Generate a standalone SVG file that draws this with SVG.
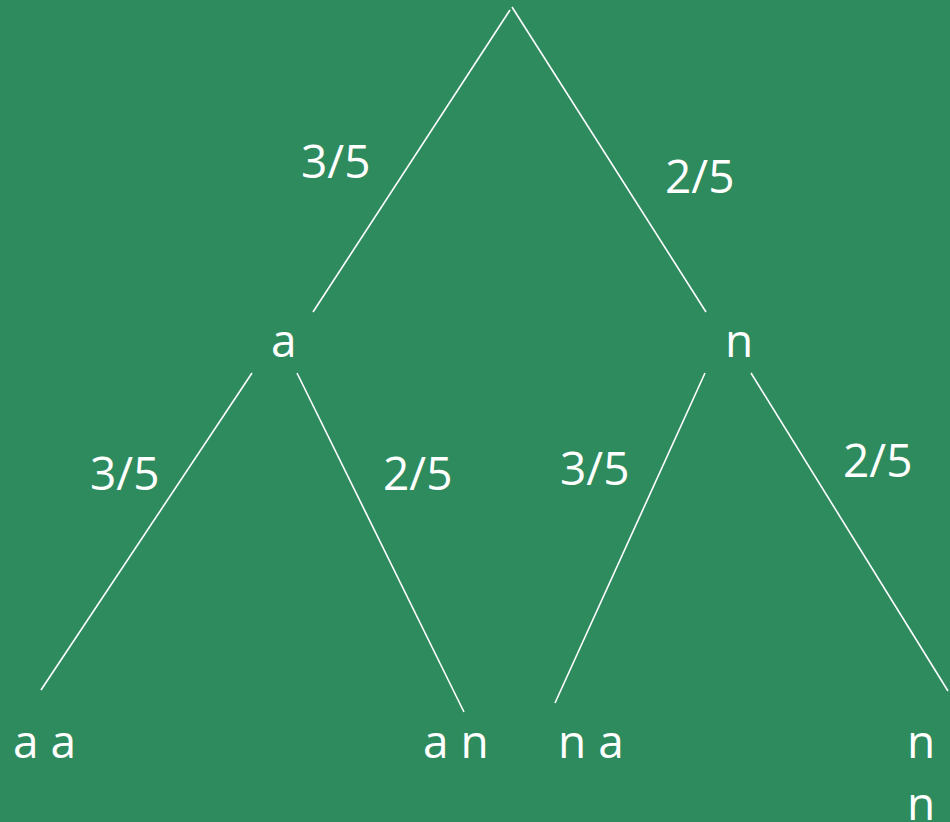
<svg xmlns="http://www.w3.org/2000/svg" width="950" height="822" viewBox="0 0 950 822">
<style>
.bg{fill:#2E8B5E}
.edge{stroke:#FFFFFF;stroke-width:1.6;fill:none}
.t{font-family:"Open Sans","Liberation Sans",sans-serif;font-size:46px;fill:#FFFFFF}
</style>
<rect class="bg" x="0" y="0" width="950" height="822"/>
<g id="connectors">
<line class="edge" x1="510" y1="10" x2="313" y2="312"/>
<line class="edge" x1="512" y1="7" x2="706" y2="312"/>
<line class="edge" x1="252" y1="373" x2="41" y2="690"/>
<line class="edge" x1="297" y1="373" x2="464" y2="712"/>
<line class="edge" x1="705" y1="373" x2="555" y2="703"/>
<line class="edge" x1="751" y1="373" x2="948" y2="691"/>
</g>
<g id="edge-labels">
<text class="t" x="301" y="178">3/5</text>
<text class="t" x="665" y="193">2/5</text>
<text class="t" x="90" y="490">3/5</text>
<text class="t" x="383" y="490">2/5</text>
<text class="t" x="560" y="485">3/5</text>
<text class="t" x="843" y="477">2/5</text>
</g>
<g id="node-a"><text class="t" x="271" y="357">a</text></g>
<g id="node-n"><text class="t" x="725" y="357">n</text></g>
<g id="node-aa"><text class="t" x="13" y="758">a a</text></g>
<g id="node-an"><text class="t" x="423" y="758">a n</text></g>
<g id="node-na"><text class="t" x="558" y="758">n a</text></g>
<g id="node-nn"><text class="t" x="907" y="758">n</text><text class="t" x="907" y="820">n</text></g>
</svg>
